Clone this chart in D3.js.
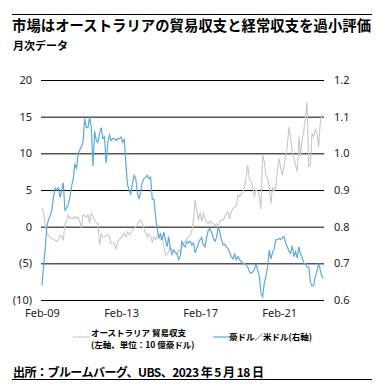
<!DOCTYPE html>
<html lang="ja">
<head>
  <meta charset="UTF-8">
  <title>豪州 貿易収支と豪ドル</title>
  <style>
    body { margin: 0; background: #fff; }
    text { font-family: "Noto Sans CJK JP", "Noto Sans", sans-serif; }
  </style>
</head>
<body>
  <svg id="svg" width="385" height="392"></svg>
  <script src="https://d3js.org/d3.v7.min.js"></script>
  <script>
    // monthly, Feb-2009 .. May-2023
    const startMonth = new Date(2009, 1, 1)

    // Australian trade balance (left axis, A$ bn)
    const tradeBalance = [
      2.5, 2.0, 0.2, -0.9, -1.2, -1.5, -1.6, -1.7, -1.9, -2.0, -1.8,
      -1.2, -1.4, -1.8, 0.4, 0.8, 1.6, 1.1, 1.3, 1.1, 1.4, 1.1, 1.3,
      0.7, -0.2, 1.6, 1.5, 1.3, 1.6, 0.45, 1.8, 1.4, 0.9, 0.5, 0.5,
      -2.5, -1.0, -1.4, -1.4, -1.2, -1.1, -1.3, -2.3, -2.2, -2.3, -3.1, -2.0,
      -1.8, -1.5, -1.3, -0.9, -1.4, -0.7, -1.1, -0.9, -0.45, -0.23, 0.0, 0.3,
      0.7, 0.9, 0.4, -0.2, -0.9, -1.4, -1.0, -1.3, -2.1, -1.4, -1.8, -1.3,
      -1.0, -1.8, -1.6, -2.7, -3.9, -3.7, -3.4, -2.8, -3.1, -3.3, -3.5, -3.7,
      -3.2, -3.5, -2.8, -2.4, -1.9, -1.7, -1.4, -1.2, -0.6, 0.9, 3.6, 2.2,
      0.9, 2.0, 0.7, 1.8, 1.1, 0.7, 0.4, 0.8, 0.5, 0.45, 0.1, 0.4,
      0.2, 0.7, 0.9, 0.9, 1.3, 1.8, 2.05, 1.0, 2.05, 2.5, 2.6, 2.8,
      4.3, 4.1, 4.45, 4.6, 5.4, 6.7, 8.4, 6.4, 6.1, 5.4, 4.1, 5.1,
      4.8, 4.2, 2.4, 9.8, 8.9, 7.0, 6.6, 5.4, 3.1, 5.4, 4.8, 5.5,
      7.7, 9.3, 8.0, 7.0, 8.2, 9.8, 10.9, 13.6, 12.0, 10.2, 9.3, 8.4,
      7.5, 12.3, 9.6, 11.8, 13.0, 14.8, 17.0, 8.2, 8.4, 12.7, 12.3, 13.2,
      12.7, 10.9, 14.1, 15.2, 15.0
    ]

    // AUD/USD (right axis)
    const audUsd = [
      0.64, 0.69, 0.74, 0.80, 0.82, 0.83, 0.845, 0.88, 0.905, 0.90, 0.905,
      0.88, 0.90, 0.92, 0.845, 0.85, 0.86, 0.88, 0.91, 0.93, 0.97, 0.96, 1.00,
      1.01, 1.02, 1.03, 1.095, 1.07, 1.07, 1.10, 1.07, 0.965, 1.06, 1.035, 1.03,
      1.055, 1.07, 1.04, 1.045, 0.973, 1.03, 1.05, 1.035, 1.04, 1.04, 1.035, 1.04,
      1.04, 1.045, 1.03, 1.04, 0.97, 0.914, 0.90, 0.889, 0.92, 0.94, 0.93, 0.89,
      0.875, 0.90, 0.92, 0.932, 0.935, 0.94, 0.93, 0.935, 0.875, 0.875, 0.827, 0.795,
      0.77, 0.78, 0.764, 0.786, 0.764, 0.745, 0.773, 0.741, 0.725, 0.736, 0.73, 0.725,
      0.71, 0.72, 0.76, 0.75, 0.745, 0.76, 0.755, 0.76, 0.75, 0.755, 0.73, 0.74,
      0.755, 0.765, 0.77, 0.75, 0.745, 0.77, 0.79, 0.795, 0.785, 0.77, 0.76, 0.77,
      0.80, 0.785, 0.765, 0.75, 0.752, 0.745, 0.74, 0.73, 0.718, 0.712, 0.725, 0.71,
      0.718, 0.71, 0.705, 0.70, 0.70, 0.695, 0.69, 0.677, 0.673, 0.677, 0.683, 0.70,
      0.68, 0.664, 0.62, 0.609, 0.645, 0.665, 0.69, 0.736, 0.712, 0.73, 0.74, 0.765,
      0.764, 0.768, 0.765, 0.77, 0.773, 0.755, 0.745, 0.733, 0.727, 0.748, 0.718, 0.732,
      0.714, 0.745, 0.725, 0.718, 0.70, 0.70, 0.69, 0.69, 0.65, 0.638, 0.64, 0.664,
      0.68, 0.70, 0.682, 0.664, 0.659
    ]

    const leftTicks = [-10, -5, 0, 5, 10, 15, 20]
    const rightTicks = [0.6, 0.7, 0.8, 0.9, 1.0, 1.1, 1.2]
    const xTickLabels = ['Feb-09', 'Feb-13', 'Feb-17', 'Feb-21']

    const dates = tradeBalance.map((d, i) => d3.timeMonth.offset(startMonth, i))

    const svg = d3.select('#svg')

    const plotLeft = 41
    const plotRight = 324

    const xScale = d3.scaleTime()
      .domain([dates[0], dates[dates.length - 1]])
      .range([42, 323.5])

    const yLeft = d3.scaleLinear()
      .domain([-10, 20])
      .range([300, 80])

    const yRight = d3.scaleLinear()
      .domain([0.6, 1.2])
      .range([300, 80])

    // header
    svg.append('line')
      .attr('x1', 12).attr('x2', 372)
      .attr('y1', 14.5).attr('y2', 14.5)
      .attr('stroke', '#000').attr('stroke-width', 1.2)

    svg.append('text')
      .attr('x', 12).attr('y', 31)
      .attr('font-size', 14.3)
      .attr('font-weight', 'bold')
      .attr('textLength', 359)
      .text('市場はオーストラリアの貿易収支と経常収支を過小評価')

    svg.append('text')
      .attr('x', 13).attr('y', 50)
      .attr('font-size', 11)
      .attr('font-weight', 'bold')
      .text('月次データ')

    // left axis + gridlines
    const leftAxis = svg.append('g')
      .attr('transform', `translate(${plotLeft},0)`)
      .call(d3.axisLeft(yLeft)
        .tickValues(leftTicks)
        .tickSize(-(plotRight - plotLeft))
        .tickPadding(9)
        .tickFormat(d => d < 0 ? `(${-d})` : d))
    leftAxis.select('.domain').remove()
    leftAxis.selectAll('line').attr('stroke', '#000').attr('stroke-width', 1)
    leftAxis.selectAll('text')
      .attr('font-size', 11)
      .attr('fill', '#222')
      .style('font-family', '"Noto Sans", sans-serif')

    const rightAxis = svg.append('g')
      .attr('transform', `translate(${plotRight},0)`)
      .call(d3.axisRight(yRight)
        .tickValues(rightTicks)
        .tickSize(0)
        .tickPadding(10)
        .tickFormat(d3.format('.1f')))
    rightAxis.select('.domain').remove()
    rightAxis.selectAll('text')
      .attr('font-size', 11)
      .attr('fill', '#222')
      .style('font-family', '"Noto Sans", sans-serif')

    const xAxis = svg.append('g')
      .attr('transform', 'translate(0,300)')
      .call(d3.axisBottom(xScale)
        .tickValues(xTickLabels.map(s => d3.timeParse('%b-%y')(s)))
        .tickSize(0)
        .tickPadding(9)
        .tickFormat(d3.timeFormat('%b-%y')))
    xAxis.select('.domain').remove()
    xAxis.selectAll('text')
      .attr('font-size', 11)
      .attr('fill', '#222')
      .style('font-family', '"Noto Sans", sans-serif')

    // series
    const tradeLine = d3.line()
      .x((d, i) => xScale(dates[i]))
      .y(d => yLeft(d))

    const fxLine = d3.line()
      .x((d, i) => xScale(dates[i]))
      .y(d => yRight(d))

    svg.append('path')
      .datum(tradeBalance)
      .attr('d', tradeLine)
      .attr('fill', 'none')
      .attr('stroke', '#c8c8c8')
      .attr('stroke-width', 1.1)

    svg.append('path')
      .datum(audUsd)
      .attr('d', fxLine)
      .attr('fill', 'none')
      .attr('stroke', '#5aaade')
      .attr('stroke-width', 1.2)

    // legend
    const legend = svg.append('g')
    legend.append('line')
      .attr('x1', 73).attr('x2', 90)
      .attr('y1', 337).attr('y2', 337)
      .attr('stroke', '#c8c8c8').attr('stroke-width', 1.1)
    legend.append('text')
      .attr('x', 91).attr('y', 336)
      .attr('font-size', 8.5)
      .attr('font-weight', 'bold')
      .text('オーストラリア 貿易収支')
    legend.append('text')
      .attr('x', 91).attr('y', 348)
      .attr('font-size', 8.5)
      .attr('font-weight', 'bold')
      .text('(左軸、単位：10 億豪ドル)')
    legend.append('line')
      .attr('x1', 213).attr('x2', 229)
      .attr('y1', 337).attr('y2', 337)
      .attr('stroke', '#5aaade').attr('stroke-width', 1.2)
    legend.append('text')
      .attr('x', 229).attr('y', 340)
      .attr('font-size', 8.5)
      .attr('font-weight', 'bold')
      .text('豪ドル／米ドル(右軸)')

    // footer
    svg.append('text')
      .attr('x', 13).attr('y', 377)
      .attr('font-size', 12)
      .attr('font-weight', 'bold')
      .attr('textLength', 251)
      .text('出所：ブルームバーグ、UBS、2023 年 5 月 18 日')

    svg.append('line')
      .attr('x1', 12).attr('x2', 372)
      .attr('y1', 379.5).attr('y2', 379.5)
      .attr('stroke', '#000').attr('stroke-width', 1.2)
  </script>
</body>
</html>
